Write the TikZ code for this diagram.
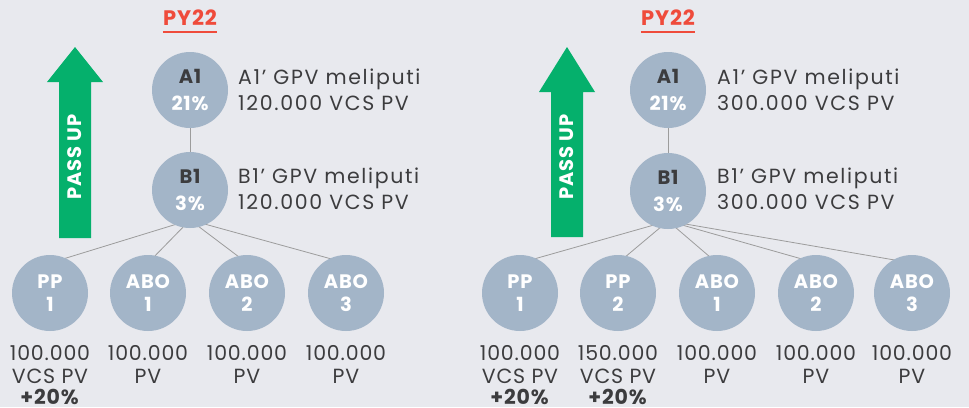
\documentclass[tikz,border=0pt]{standalone}
\usepackage{fontspec}
\setmainfont[LetterSpace=4]{Poppins}
\usetikzlibrary{calc}

\definecolor{bgcol}{HTML}{E8E9EE}
\definecolor{dotcol}{HTML}{A3B5C8}
\definecolor{txtcol}{HTML}{3C3C3E}
\definecolor{upgreen}{HTML}{05B06C}
\definecolor{pyred}{HTML}{EF4B3B}
\definecolor{linecol}{HTML}{9C9C9C}

\newcommand{\dd}{30}   % how far the links start inside a circle
\pgfdeclarelayer{back}
\pgfdeclarelayer{wires}
\pgfsetlayers{back,wires,main}

\tikzset{
    member/.style={circle, fill=dotcol, minimum size=76pt, inner sep=0pt,
        align=center, font=\fontsize{19.5}{27}\selectfont\bfseries},
    kid/.style={member, font=\fontsize{19.5}{22.5}\selectfont\bfseries, text=white},
    info/.style={anchor=west, align=left, inner sep=0pt, text=txtcol,
        font=\fontsize{20.5}{25.5}\selectfont\addfontfeature{LetterSpace=8}},
    pv/.style={anchor=north, align=center, inner sep=0pt, text=txtcol,
        font=\fontsize{20.5}{23}\selectfont},
    year/.style={inner sep=0pt, text=pyred, font=\fontsize{21}{24}\selectfont\bfseries},
    passup/.style={rotate=90, inner sep=0pt, text=white, font=\fontsize{19.5}{22}\selectfont\bfseries},
    link/.style={draw=linecol, line width=0.8pt},
}

\begin{document}
\begin{tikzpicture}[x=1pt, y=-1pt]

        \begin{pgfonlayer}{back}
        \fill[bgcol] (0, 0) rectangle (969, 407);
        \end{pgfonlayer}
        \useasboundingbox (0, 0) rectangle (969, 407);

        % left panel
        \node[year] (py1) at (190, 18) {PY22};
        \draw[pyred, line width=1.3pt] ($(py1.south west)+(0,6)$) -- ($(py1.south east)+(0,6)$);

        \fill[upgreen] (75, 47) -- (103, 82) -- (91, 82) -- (91, 238) -- (59, 238) -- (59, 82) -- (47, 82) -- cycle;
        \node[passup] (up1) at (75, 157) {PASS UP};

        \node[member] (a1) at (190, 90) {{\color{txtcol}A1}\\{\color{white}21\%}};
        \node[member] (b1) at (190, 190) {{\color{txtcol}B1}\\{\color{white}3\%}};
        \node[info] (ta1) at (238, 90) {A1’ GPV meliputi\\120.000 VCS PV};
        \node[info] (tb1) at (238, 189) {B1’ GPV meliputi\\120.000 VCS PV};

        \node[kid] (pp1) at (50, 293) {PP\\1};
        \node[kid] (abo1) at (148, 293) {ABO\\1};
        \node[kid] (abo2) at (247, 293) {ABO\\2};
        \node[kid] (abo3) at (346, 293) {ABO\\3};

        \node[pv] (vpp1) at (50, 345) {100.000\\VCS PV\\[-2pt]\textbf{+20\%}};
        \node[pv] (vabo1) at (148, 345) {100.000\\PV};
        \node[pv] (vabo2) at (247, 345) {100.000\\PV};
        \node[pv] (vabo3) at (346, 345) {100.000\\PV};

        \begin{pgfonlayer}{wires}
        \draw[link] (a1) -- (b1);
        \draw[link] ($(b1)+(0,\dd)$) -- ($(pp1)+(0,-\dd)$);
        \draw[link] ($(b1)+(0,\dd)$) -- ($(abo1)+(0,-\dd)$);
        \draw[link] ($(b1)+(0,\dd)$) -- ($(abo2)+(0,-\dd)$);
        \draw[link] ($(b1)+(0,\dd)$) -- ($(abo3)+(0,-\dd)$);
        \end{pgfonlayer}

        % right panel
        \node[year] (py2) at (668, 18) {PY22};
        \draw[pyred, line width=1.3pt] ($(py2.south west)+(0,6)$) -- ($(py2.south east)+(0,6)$);

        \fill[upgreen] (567, 47) -- (595, 92) -- (583, 92) -- (583, 237) -- (551, 237) -- (551, 92) -- (539, 92) -- cycle;
        \node[passup] (up2) at (567, 157) {PASS UP};

        \node[member] (a2) at (668, 90) {{\color{txtcol}A1}\\{\color{white}21\%}};
        \node[member] (b2) at (668, 191) {{\color{txtcol}B1}\\{\color{white}3\%}};
        \node[info] (ta2) at (717, 90) {A1’ GPV meliputi\\300.000 VCS PV};
        \node[info] (tb2) at (717, 189) {B1’ GPV meliputi\\300.000 VCS PV};

        \node[kid] (pp21) at (520, 293) {PP\\1};
        \node[kid] (pp22) at (618, 293) {PP\\2};
        \node[kid] (abo21) at (717, 293) {ABO\\1};
        \node[kid] (abo22) at (816, 293) {ABO\\2};
        \node[kid] (abo23) at (912, 293) {ABO\\3};

        \node[pv] (vpp21) at (520, 345) {100.000\\VCS PV\\[-2pt]\textbf{+20\%}};
        \node[pv] (vpp22) at (618, 345) {150.000\\VCS PV\\[-2pt]\textbf{+20\%}};
        \node[pv] (vabo21) at (717, 345) {100.000\\PV};
        \node[pv] (vabo22) at (816, 345) {100.000\\PV};
        \node[pv] (vabo23) at (912, 345) {100.000\\PV};

        \begin{pgfonlayer}{wires}
        \draw[link] (a2) -- (b2);
        \draw[link] ($(b2)+(0,\dd)$) -- ($(pp21)+(0,-\dd)$);
        \draw[link] ($(b2)+(0,\dd)$) -- ($(pp22)+(0,-\dd)$);
        \draw[link] ($(b2)+(0,\dd)$) -- ($(abo21)+(0,-\dd)$);
        \draw[link] ($(b2)+(0,\dd)$) -- ($(abo22)+(0,-\dd)$);
        \draw[link] ($(b2)+(0,\dd)$) -- ($(abo23)+(0,-\dd)$);
        \end{pgfonlayer}

\end{tikzpicture}
\end{document}
